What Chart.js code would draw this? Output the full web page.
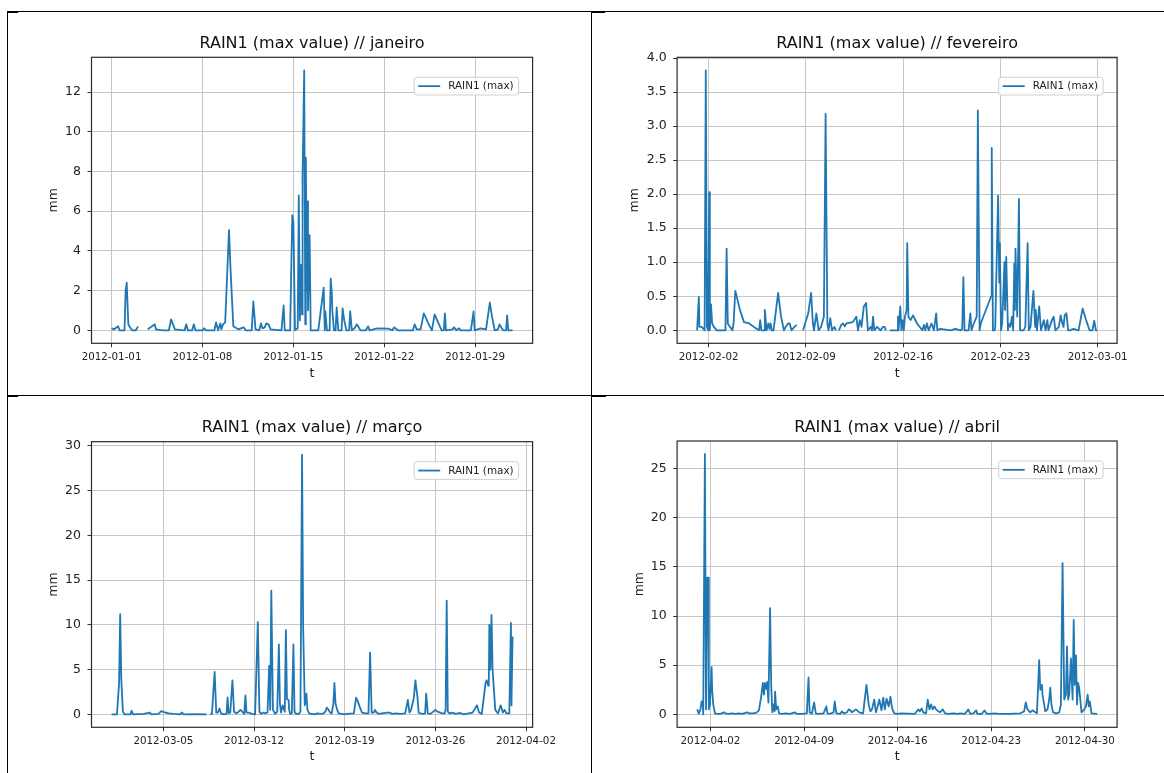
<!DOCTYPE html>
<html>
<head>
<meta charset="utf-8">
<script src="https://cdn.jsdelivr.net/npm/chart.js@4.4.1/dist/chart.umd.min.js"></script>
<style>
  html, body { margin: 0; padding: 0; background: #fff; }
  body { width: 1164px; height: 773px; position: relative; overflow: hidden; font-family: 'DejaVu Sans', sans-serif; }
  canvas { position: absolute; }
  .rule { position: absolute; background: #000; }
</style>
</head>
<body>
<canvas id="c1" width="583" height="382" style="left:8px;top:13px"></canvas>
<canvas id="c2" width="571" height="382" style="left:593px;top:13px"></canvas>
<canvas id="c3" width="583" height="376" style="left:8px;top:397px"></canvas>
<canvas id="c4" width="571" height="376" style="left:593px;top:397px"></canvas>

<!-- table rules between the four cells -->
<div class="rule" style="left:7px;top:11px;width:1157px;height:1px"></div>
<div class="rule" style="left:7px;top:395px;width:1157px;height:1px"></div>
<div class="rule" style="left:7px;top:11px;width:1px;height:762px"></div>
<div class="rule" style="left:591px;top:11px;width:1px;height:762px"></div>
<div class="rule" style="left:7px;top:11px;width:11px;height:2px"></div>
<div class="rule" style="left:591px;top:11px;width:14px;height:2px"></div>
<div class="rule" style="left:7px;top:395px;width:11px;height:2px"></div>
<div class="rule" style="left:591px;top:395px;width:15px;height:2px"></div>

<script>
// Hourly maximum rainfall, [hour since start of month, mm]; null marks missing records.
const janRain = [
  [0,0.1],[5,0.05],[12,0.2],[15,0],[24,0],[26,2.0],[28,2.4],[31,0.3],[34,0.15],[38,0],[45,0],[49,0.2],[52,null],
  [67,0.05],[80,0.3],[82,0.05],[95,0],[106,0],[110,0.55],[117,0.05],[135,0],[138,0.3],[141,0],[149,0],[152,0.3],
  [155,0],[168,0],[171,0.1],[175,0],[190,0],[193,0.4],[197,0],[201,0.35],[203,0.05],[206,0.3],[210,0.4],[217,5.05],
  [220,3.0],[225,0.2],[234,0.05],[244,0.15],[248,0],[259,0],[262,1.45],[266,0.05],[273,0],[276,0.35],[279,0.1],
  [283,0.15],[286,0.35],[290,0.3],[294,0.05],[314,0],[318,1.25],[320,0],[330,0],[334,5.8],[336,5.5],[339,0],
  [344,0.1],[346,6.8],[348,0.5],[350,3.3],[352,0.8],[353,7.8],[356,13.1],[358,0.3],[359,8.7],[361,2.0],[362,6.5],
  [363,1.0],[366,4.8],[368,0],[376,0],[382,0],[392,2.15],[394,0],[395,0.95],[398,0],[403,0],[405,2.6],[407,1.9],
  [408,1.0],[411,0],[414,0],[416,1.15],[419,0],[425,0],[427,1.1],[430,0.5],[434,0],[439,0],[441,0.95],[444,0],
  [449,0.1],[453,0.3],[460,0],[470,0],[474,0.2],[477,0],[491,0.1],[512,0.08],[519,0],[522,0.15],[529,0],[557,0],
  [560,0.3],[564,0.05],[571,0.05],[577,0.85],[588,0.2],[592,0],[597,0.8],[605,0.3],[610,0],[614,0],[616,0.85],
  [618,0],[630,0.05],[633,0.15],[637,0],[642,0.1],[645,0],[664,0],[669,0.95],[671,0],[682,0.1],[692,0.05],
  [699,1.4],[703,0.7],[708,0],[714,0.05],[717,0.3],[721,0.1],[724,0],[729,0],[731,0.75],[733,0],[741,0]
];
const fevRain = [
  [4,0],[7,0.49],[8,0.05],[12,0.05],[15,0.02],[17,0],[19,3.82],[21,0.05],[23,0],[25,2.03],[26,0],[28,0.38],
  [30,0.1],[33,0.05],[38,0],[53,0],[55,1.2],[57,0.1],[61,0.05],[65,0],[67,0.1],[70,0.58],[78,0.3],[85,0.12],
  [94,0.1],[102,0.05],[111,0],[113,0.15],[115,0],[120,0],[121,0.3],[124,0],[127,0.1],[129,0.02],[131,0.1],
  [133,0],[136,0],[144,0.55],[149,0.2],[154,0],[157,0.05],[161,0.1],[164,0.1],[167,0],[172,0.05],[176,0.08],
  [180,null],[187,0],[196,0.25],[201,0.55],[204,0.1],[206,0],[210,0.25],[214,0],[218,0.05],[223,0.2],[226,3.18],
  [229,0.1],[231,0],[234,0.18],[237,0],[241,0.05],[244,0],[246,null],[249,0],[253,0.08],[256,0.1],[259,0.06],
  [262,0.1],[273,0.12],[279,0.2],[282,0],[285,0.15],[288,0.05],[292,0.35],[296,0.4],[299,0],[304,0.05],[306,0],
  [308,0.2],[310,0],[315,0.05],[321,0],[325,0.05],[328,0.05],[330,0],[332,null],[337,0],[350,0],[351,0.2],
  [352,0],[355,0.35],[357,0],[359,0.15],[361,0],[363,0.2],[366,0.3],[367,1.28],[369,0.2],[373,0.15],[377,0.22],
  [384,0.1],[393,0],[396,0.08],[398,0],[401,0.1],[404,0],[409,0.1],[413,0],[417,0.25],[419,0],[424,0.02],
  [442,0],[450,0.02],[459,0],[462,0.02],[464,0.78],[466,0],[473,0],[476,0.25],[478,0],[482,0.1],[487,0.2],
  [489,3.23],[492,0],[494,0.1],[512,0.5],[513,2.68],[515,0],[518,0],[519,0.05],[524,1.98],[526,0.7],[527,1.28],
  [529,0],[531,0.1],[535,1.0],[536,0.3],[538,1.08],[541,0],[542,0.1],[545,0.05],[548,0.2],[550,0],[552,0.98],
  [553,0.3],[554,1.2],[557,0.2],[560,1.93],[562,0],[568,0],[571,0.05],[575,1.28],[577,0],[580,0.05],[585,0.58],
  [588,0.05],[589,0.3],[591,0],[595,0.35],[598,0],[603,0.15],[606,0],[609,0.15],[611,0],[617,0.15],[620,0.2],
  [623,0],[629,0.05],[632,0.22],[635,0.1],[637,0.05],[639,0.22],[642,0.25],[645,0],[648,0],[654,0.02],[663,0],
  [670,0.32],[676,0.15],[682,0],[687,0],[690,0.14],[693,0],[695,0]
];
const marRain = [
  [0,0],[10,0],[14,3.5],[16,11.2],[18,4.0],[21,0.3],[24,0],[35,0],[37,0.4],[40,0],[59,0.05],[71,0.2],[74,0],
  [87,0.05],[92,0.35],[97,0.25],[101,0.2],[106,0.1],[115,0.05],[127,0],[130,0.2],[134,0],[157,0.02],[176,0],
  [180,null],[183,0],[186,0.05],[191,4.75],[194,0.2],[197,0.2],[200,0.65],[203,0.1],[208,0],[213,0.05],[215,1.9],
  [217,0.1],[220,0.2],[224,3.8],[227,0.3],[232,0.1],[239,0.5],[242,0.3],[246,0.05],[248,2.1],[250,0.2],[254,0.2],
  [260,0.05],[266,0],[271,10.3],[274,0.3],[277,0.05],[282,0.2],[285,0.1],[289,0.2],[292,5.4],[294,0.5],[296,13.8],
  [299,0.5],[302,0.2],[303,0.05],[307,0.3],[310,7.8],[312,1.2],[314,0.2],[317,1.0],[321,0.3],[323,9.4],[325,1.7],
  [328,1.6],[329,0.5],[331,0.05],[334,0.1],[337,7.8],[339,0.3],[342,0.05],[347,0.05],[350,0.3],[353,29.0],
  [355,9.8],[358,1.0],[361,2.3],[363,0.5],[366,0.1],[371,0.05],[376,0],[381,0.1],[387,0.05],[393,0.1],[396,0.3],
  [399,0.75],[402,0.5],[405,0.2],[408,0.1],[411,1.2],[413,3.5],[415,1.2],[418,0.5],[421,0.1],[427,0.05],[431,0],
  [436,0.05],[449,0.1],[453,1.85],[456,1.5],[460,0.8],[464,0.2],[470,0.1],[476,0.1],[479,6.9],[482,0.2],
  [486,0.2],[488,0.5],[491,0.2],[495,0.05],[510,0.2],[515,0.2],[520,0.05],[526,0.1],[535,0.05],[544,0.1],
  [549,1.6],[552,0.2],[555,0.5],[560,1.8],[563,3.8],[565,2.8],[567,1.8],[569,0.2],[572,0.1],[578,0.05],[581,0.1],
  [583,2.3],[586,0.1],[591,0.05],[596,0.3],[600,0.5],[604,0.3],[609,0.2],[612,0.1],[617,0.1],[619,0.5],
  [621,12.7],[623,0.3],[626,0.1],[631,0.2],[638,0.05],[646,0.15],[652,0],[669,0.2],[677,1.0],[681,0.2],
  [686,0.05],[693,3.5],[695,3.8],[698,3.2],[699,3.6],[700,10.0],[702,5.0],[704,11.1],[706,5.0],[711,0.5],
  [716,0.1],[721,1.0],[725,0.2],[728,0.5],[732,0.1],[737,0.1],[740,10.2],[741,1.0],[743,8.7]
];
const abrRain = [
  [0,0.5],[3,0.05],[6,0.5],[8,1.3],[10,1.3],[11,0],[14,26.5],[16,0.5],[18,13.9],[20,13.9],[21,0.5],[23,1.0],
  [26,4.8],[27,2.5],[29,1.0],[32,0.1],[36,0.05],[42,0.05],[48,0.2],[51,0.1],[57,0.05],[63,0.1],[69,0.05],
  [75,0.1],[81,0.05],[90,0.2],[93,0.1],[99,0.1],[106,0.15],[111,0.4],[115,1.8],[118,3.2],[120,2.0],[122,3.2],
  [124,2.6],[126,3.3],[128,1.2],[131,10.8],[133,3.0],[135,0.2],[137,1.0],[139,0.3],[140,2.3],[142,0.5],[145,0.8],
  [147,0.1],[152,0.05],[158,0.1],[167,0.05],[175,0.2],[179,0.05],[188,0.05],[197,0.1],[200,3.75],[202,0.2],
  [206,0.05],[210,1.2],[213,0.1],[218,0.05],[227,0.1],[232,0.8],[234,0.1],[239,0.05],[245,0.2],[247,1.3],
  [250,0.1],[257,0.05],[260,0.3],[263,0.1],[269,0.2],[272,0.5],[275,0.4],[278,0.2],[285,0.5],[291,0.2],[298,0.1],
  [304,3.0],[308,1.0],[311,0.3],[314,0.5],[318,1.5],[321,0.2],[324,0.8],[327,1.5],[331,0.4],[334,1.7],[337,0.5],
  [340,1.6],[344,0.8],[347,1.8],[350,0.6],[354,0.1],[360,0.05],[367,0.1],[391,0.05],[397,0.5],[400,0.3],
  [403,0.6],[406,0.2],[411,0.1],[414,1.5],[417,0.5],[420,1.0],[423,0.5],[426,0.8],[429,0.5],[433,0.3],[436,0.2],
  [441,0.5],[445,0.1],[451,0.05],[460,0.1],[469,0.05],[472,0.1],[481,0.05],[487,0.5],[490,0.05],[496,0.1],
  [501,0.4],[503,0.05],[511,0.05],[516,0.4],[519,0.1],[523,0.05],[535,0.1],[541,0.05],[550,0.05],[559,0.05],
  [580,0.1],[587,0.3],[590,1.2],[593,0.5],[598,0.2],[602,0.4],[607,0.2],[610,0.1],[614,5.5],[616,2.5],[619,3.0],
  [620,2.0],[623,1.0],[625,0.3],[629,0.5],[632,1.5],[634,2.7],[636,1.0],[639,0.2],[645,0.1],[650,0.2],[653,1.0],
  [656,15.4],[659,1.5],[662,2.0],[664,6.9],[666,1.5],[668,2.0],[671,5.7],[674,1.5],[676,9.6],[678,3.0],[680,6.0],
  [682,1.0],[684,3.2],[686,2.6],[690,0.2],[695,0.5],[698,0.8],[701,2.0],[703,0.8],[705,1.3],[708,0.1],[718,0.05]
];

// Weekly date ticks on the time axis
const janDates = ['2012-01-01','2012-01-08','2012-01-15','2012-01-22','2012-01-29'];
const fevDates = ['2012-02-02','2012-02-09','2012-02-16','2012-02-23','2012-03-01'];
const marDates = ['2012-03-05','2012-03-12','2012-03-19','2012-03-26','2012-04-02'];
const abrDates = ['2012-04-02','2012-04-09','2012-04-16','2012-04-23','2012-04-30'];

// Rain (mm) ticks
const janTicks = [0, 2, 4, 6, 8, 10, 12];
const fevTicks = [0, 0.5, 1.0, 1.5, 2.0, 2.5, 3.0, 3.5, 4.0];
const marTicks = [0, 5, 10, 15, 20, 25, 30];
const abrTicks = [0, 5, 10, 15, 20, 25];

const seriesLabel = 'RAIN1 (max)';
const FONT = "'DejaVu Sans', sans-serif";
const BLUE = '#1f77b4';

// Frame around the plot area and an inset legend in its upper right corner
const framePlugin = {
  id: 'frameAndLegend',
  afterDraw(chart) {
    const a = chart.chartArea, ctx = chart.ctx;
    ctx.save();
    ctx.strokeStyle = '#2b2b2b';
    ctx.lineWidth = 1.2;
    ctx.strokeRect(a.left, a.top, a.right - a.left, a.bottom - a.top);

    const label = chart.data.datasets[0].label;
    ctx.font = '10.4px ' + FONT;
    const tw = ctx.measureText(label).width;
    const bw = 34 + tw + 5, bh = 17.7;
    const bx = a.right - 14 - bw, by = a.top + 20;
    ctx.beginPath();
    if (ctx.roundRect) ctx.roundRect(bx, by, bw, bh, 2.5); else ctx.rect(bx, by, bw, bh);
    ctx.fillStyle = 'rgba(255,255,255,0.85)';
    ctx.fill();
    ctx.strokeStyle = '#d0d0d0';
    ctx.lineWidth = 1;
    ctx.stroke();
    ctx.beginPath();
    ctx.moveTo(bx + 4, by + bh / 2);
    ctx.lineTo(bx + 26, by + bh / 2);
    ctx.strokeStyle = BLUE;
    ctx.lineWidth = 1.8;
    ctx.stroke();
    ctx.fillStyle = '#222';
    ctx.textBaseline = 'middle';
    ctx.textAlign = 'left';
    ctx.fillText(label, bx + 34, by + bh / 2 + 0.5);
    ctx.restore();
  }
};

function hoursBetween(start, day) {
  return (Date.parse(day) - Date.parse(start)) / 3600000;
}

function makePanel(p) {
  const canvas = document.getElementById(p.id);
  const cx = parseFloat(canvas.style.left), cy = parseFloat(canvas.style.top);
  const cw = canvas.width, ch = canvas.height;
  const [L, T, R, B] = p.area;
  const WY = 50, HX = 40;
  const TS = 16, TLH = TS * 1.2;
  const AS = 12.5, ALH = AS * 1.2;

  const pts = p.data.map(([h, v]) => ({ x: h, y: v }));
  const xs = pts.map(d => d.x);
  const ys = pts.filter(d => d.y !== null).map(d => d.y);
  const x0 = Math.min(...xs), x1 = Math.max(...xs);
  const y0 = Math.min(...ys), y1 = Math.max(...ys);
  const mx = (x1 - x0) * 0.05, my = (y1 - y0) * 0.05;
  const xTickVals = p.dates.map(d => hoursBetween(p.start, d));

  new Chart(canvas, {
    type: 'line',
    data: {
      datasets: [{
        label: seriesLabel,
        data: pts,
        borderColor: BLUE,
        borderWidth: 1.8,
        borderJoinStyle: 'round',
        pointRadius: 0,
        tension: 0,
        spanGaps: false,
        fill: false
      }]
    },
    plugins: [framePlugin],
    options: {
      responsive: false,
      devicePixelRatio: 1,
      animation: false,
      events: [],
      parsing: false,
      layout: {
        padding: {
          top: p.titleY - TLH / 2 - cy,
          left: L - cx - WY,
          right: cx + cw - R,
          bottom: cy + ch - B - HX
        }
      },
      plugins: {
        legend: { display: false },
        tooltip: { enabled: false },
        title: {
          display: true,
          text: 'RAIN1 (max value) // ' + p.month,
          fullSize: false,
          color: '#111',
          font: { family: FONT, size: TS, weight: 'normal', lineHeight: 1.2 },
          padding: { top: 0, bottom: T - p.titleY - TLH / 2 }
        }
      },
      scales: {
        x: {
          type: 'linear',
          min: x0 - mx,
          max: x1 + mx,
          afterBuildTicks: s => { s.ticks = xTickVals.map(v => ({ value: v })); },
          afterFit: s => { s.height = HX; },
          ticks: {
            autoSkip: false, maxRotation: 0, color: '#222', padding: 3.4,
            font: { family: FONT, size: 10.3, lineHeight: 1.2 },
            callback: (v, i) => p.dates[i]
          },
          grid: { color: '#c6c6c6', lineWidth: 1, tickColor: '#333', tickLength: 4, tickWidth: 1 },
          border: { display: false },
          title: {
            display: true, text: 't', color: '#222',
            font: { family: FONT, size: AS, lineHeight: 1.2 },
            padding: { top: 0, bottom: (B + HX) - ALH / 2 - p.tY }
          }
        },
        y: {
          type: 'linear',
          min: y0 - my,
          max: y1 + my,
          afterBuildTicks: s => { s.ticks = p.yTicks.map(v => ({ value: v })); },
          afterFit: s => { s.width = WY; },
          ticks: {
            color: '#222', padding: 6.5,
            font: { family: FONT, size: 12.5, lineHeight: 1.2 },
            callback: v => Number(v).toFixed(p.yDec)
          },
          grid: { color: '#c6c6c6', lineWidth: 1, tickColor: '#333', tickLength: 4, tickWidth: 1 },
          border: { display: false },
          title: {
            display: true, text: 'mm', color: '#222',
            font: { family: FONT, size: AS, lineHeight: 1.2 },
            padding: { top: p.mmX - ALH / 2 - (L - WY), bottom: 0 }
          }
        }
      }
    }
  });
}

makePanel({ id: 'c1', month: 'janeiro', start: '2012-01-01', data: janRain, dates: janDates, yTicks: janTicks, yDec: 0,
  area: [91.5, 57.3, 532.6, 343.3], titleY: 43.7, mmX: 54, tY: 373.3 });
makePanel({ id: 'c2', month: 'fevereiro', start: '2012-02-01', data: fevRain, dates: fevDates, yTicks: fevTicks, yDec: 1,
  area: [677.1, 57.3, 1117.1, 343.3], titleY: 43.7, mmX: 635.2, tY: 373.3 });
makePanel({ id: 'c3', month: 'março', start: '2012-03-01', data: marRain, dates: marDates, yTicks: marTicks, yDec: 0,
  area: [91.5, 441.7, 532.6, 727.3], titleY: 427.7, mmX: 54, tY: 756.7 });
makePanel({ id: 'c4', month: 'abril', start: '2012-04-01', data: abrRain, dates: abrDates, yTicks: abrTicks, yDec: 0,
  area: [677.1, 441, 1117.1, 727.3], titleY: 428.3, mmX: 639.8, tY: 756.7 });
</script>
</body>
</html>
